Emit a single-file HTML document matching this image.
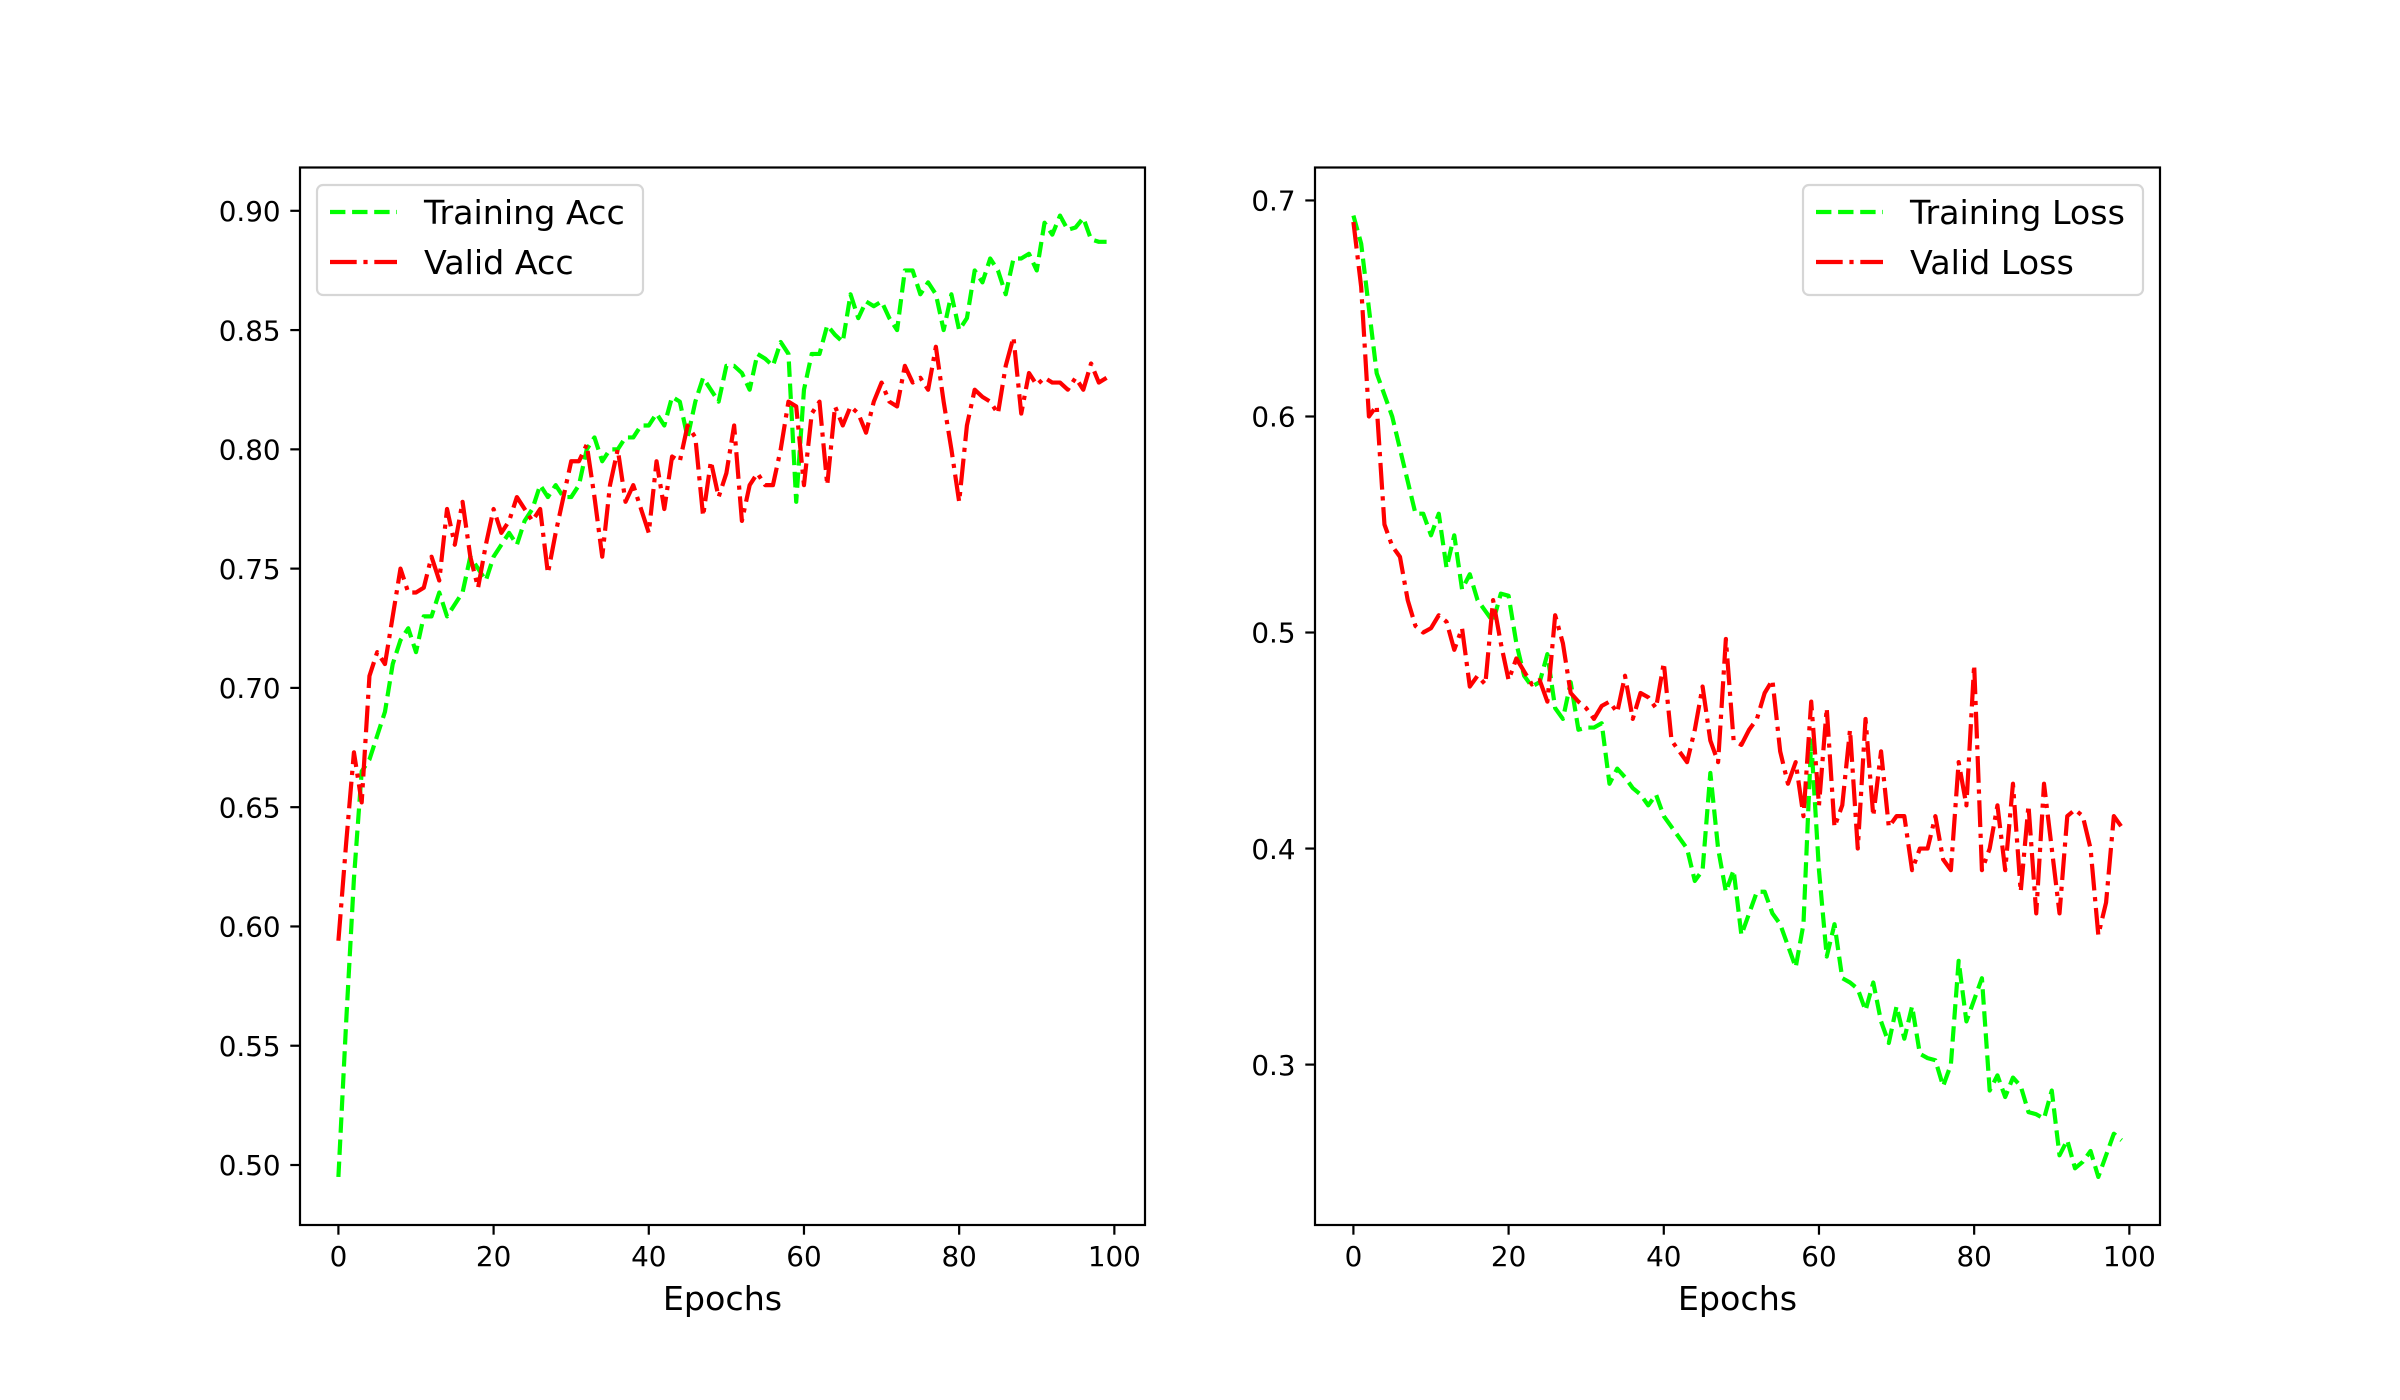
<!DOCTYPE html>
<html><head><meta charset="utf-8"><title>Training curves</title>
<style>
html,body{margin:0;padding:0;background:#fff;}
svg{display:block;font-family:"DejaVu Sans","Liberation Sans",sans-serif;}
</style></head>
<body>
<svg id="fig" width="2400" height="1400" viewBox="0 0 2400 1400" xmlns="http://www.w3.org/2000/svg">
<rect x="0" y="0" width="2400" height="1400" fill="#fff"/>
</svg>
<script>
const epochs = Array.from({length:100},(_,i)=>i);
const trainAcc = [0.495,0.56,0.62,0.665,0.67,0.68,0.69,0.71,0.72,0.725,0.715,0.73,0.73,0.74,0.73,0.735,0.74,0.755,0.75,0.745,0.755,0.76,0.765,0.76,0.77,0.775,0.785,0.78,0.785,0.78,0.78,0.785,0.80,0.805,0.795,0.80,0.80,0.805,0.805,0.81,0.81,0.815,0.81,0.822,0.82,0.805,0.82,0.83,0.825,0.82,0.835,0.835,0.832,0.825,0.84,0.838,0.835,0.845,0.84,0.778,0.825,0.84,0.84,0.852,0.848,0.845,0.865,0.855,0.862,0.86,0.862,0.855,0.85,0.875,0.875,0.865,0.87,0.865,0.85,0.865,0.85,0.855,0.875,0.87,0.88,0.875,0.865,0.88,0.88,0.882,0.875,0.895,0.89,0.898,0.892,0.893,0.897,0.888,0.887,0.887];
const validAcc = [0.594,0.635,0.673,0.652,0.705,0.715,0.71,0.73,0.75,0.74,0.74,0.742,0.755,0.745,0.775,0.76,0.778,0.755,0.742,0.76,0.775,0.765,0.77,0.78,0.775,0.77,0.775,0.748,0.765,0.78,0.795,0.795,0.802,0.78,0.755,0.785,0.80,0.778,0.785,0.775,0.765,0.795,0.775,0.797,0.795,0.81,0.805,0.772,0.795,0.78,0.79,0.81,0.77,0.785,0.79,0.785,0.785,0.80,0.82,0.818,0.785,0.815,0.82,0.785,0.818,0.81,0.818,0.815,0.807,0.82,0.828,0.82,0.818,0.835,0.828,0.83,0.825,0.843,0.82,0.80,0.778,0.81,0.825,0.822,0.82,0.815,0.835,0.847,0.815,0.832,0.827,0.83,0.828,0.828,0.825,0.83,0.825,0.836,0.828,0.83];
const trainLoss = [0.693,0.68,0.65,0.62,0.61,0.60,0.585,0.57,0.555,0.555,0.545,0.555,0.53,0.545,0.52,0.527,0.515,0.51,0.505,0.518,0.517,0.495,0.48,0.475,0.477,0.49,0.465,0.46,0.477,0.455,0.456,0.456,0.458,0.43,0.437,0.433,0.428,0.425,0.42,0.425,0.415,0.41,0.405,0.40,0.385,0.39,0.435,0.40,0.38,0.39,0.36,0.37,0.38,0.38,0.37,0.365,0.355,0.345,0.365,0.45,0.39,0.35,0.365,0.34,0.338,0.335,0.325,0.338,0.32,0.31,0.327,0.312,0.327,0.305,0.303,0.302,0.29,0.30,0.348,0.32,0.33,0.34,0.288,0.295,0.285,0.294,0.29,0.278,0.277,0.275,0.288,0.258,0.265,0.252,0.255,0.26,0.248,0.258,0.268,0.265];
const validLoss = [0.69,0.66,0.60,0.605,0.55,0.54,0.535,0.515,0.503,0.50,0.502,0.508,0.505,0.492,0.502,0.475,0.48,0.476,0.515,0.495,0.478,0.488,0.482,0.476,0.478,0.468,0.508,0.495,0.472,0.468,0.465,0.46,0.466,0.468,0.463,0.48,0.46,0.472,0.47,0.465,0.486,0.45,0.445,0.44,0.455,0.475,0.45,0.44,0.497,0.45,0.448,0.455,0.46,0.472,0.478,0.445,0.43,0.44,0.415,0.468,0.42,0.465,0.41,0.42,0.455,0.40,0.46,0.415,0.445,0.41,0.415,0.415,0.39,0.40,0.40,0.415,0.395,0.39,0.44,0.42,0.485,0.39,0.40,0.42,0.39,0.43,0.38,0.42,0.37,0.43,0.40,0.37,0.415,0.418,0.415,0.40,0.36,0.375,0.415,0.41];
const xTicks = [0,20,40,60,80,100];
const accTicks = [0.50,0.55,0.60,0.65,0.70,0.75,0.80,0.85,0.90];
const accTickLabels = ["0.50","0.55","0.60","0.65","0.70","0.75","0.80","0.85","0.90"];
const lossTicks = [0.3,0.4,0.5,0.6,0.7];
const lossTickLabels = ["0.3","0.4","0.5","0.6","0.7"];

const NS = "http://www.w3.org/2000/svg";
const svg = document.getElementById('fig');
function mk(tag, attrs, parent){
  const e = document.createElementNS(NS, tag);
  for (const k in attrs) e.setAttribute(k, attrs[k]);
  (parent||svg).appendChild(e);
  return e;
}
const TOP=167.5, BOT=1225;
function extent(arrs){
  let mn=Infinity,mx=-Infinity;
  arrs.forEach(a=>a.forEach(v=>{mn=Math.min(mn,v);mx=Math.max(mx,v);}));
  const pad=(mx-mn)*0.05; return [mn-pad,mx+pad];
}
function panel(opt){
  const L=opt.left, R=opt.left+845;
  const g = mk('g',{});
  
  
  const xd=[-4.95,103.95];
  const yd=extent(opt.series.map(s=>s.data));
  const xs=v=>L+(v-xd[0])/(xd[1]-xd[0])*(R-L);
  const ys=v=>BOT-(v-yd[0])/(yd[1]-yd[0])*(BOT-TOP);
  // series
  opt.series.forEach(s=>{
    const d = s.data.map((v,i)=>(i?'L':'M')+xs(epochs[i]).toFixed(2)+' '+ys(v).toFixed(2)).join(' ');
    const p = mk('path',{d:d,fill:'none',stroke:s.color,'stroke-width':4.2,'stroke-dasharray':s.dash,'stroke-linejoin':'round','stroke-linecap':'butt'},g);
    
    
  });
  // frame
  const fr = mk('rect',{x:L,y:TOP,width:R-L,height:BOT-TOP,fill:'none',stroke:'#000','stroke-width':2.2},g);
  
  
  // x ticks
  xTicks.forEach(t=>{
    const x=xs(t);
    const tk = mk('line',{x1:x,y1:BOT,x2:x,y2:BOT+9.7,stroke:'#000','stroke-width':2.2},g);
    
    
    const tx = mk('text',{x:x,y:BOT+41,'font-size':27.8,'text-anchor':'middle',fill:'#000'},g);
    tx.textContent=String(t);
    
    
  });
  // y ticks
  opt.yTicks.forEach((t,i)=>{
    const y=ys(t);
    const tk = mk('line',{x1:L-9.7,y1:y,x2:L,y2:y,stroke:'#000','stroke-width':2.2},g);
    
    
    const tx = mk('text',{x:L-19.4,y:y+10.2,'font-size':27.8,'text-anchor':'end',fill:'#000'},g);
    tx.textContent=opt.yLabels[i];
    
    
  });
  const xl = mk('text',{x:(L+R)/2,y:1310,'font-size':33.3,'text-anchor':'middle',fill:'#000'},g);
  xl.textContent='Epochs';
  
  
  // legend
  const lg = mk('g',{},g);
  
  
  const lx=opt.legendX, lw=opt.legendW;
  mk('rect',{x:lx,y:185,width:lw,height:110,rx:6,ry:6,fill:'#fff','fill-opacity':0.8,stroke:'#d6d6d6','stroke-width':2.2},lg);
  opt.series.forEach((s,i)=>{
    const cy=212+i*50;
    const en = mk('g',{},lg);
    
    
    mk('line',{x1:lx+13,y1:cy,x2:lx+80,y2:cy,stroke:s.color,'stroke-width':4.2,'stroke-dasharray':s.dash},en);
    const t = mk('text',{x:lx+107,y:cy+12,'font-size':33.3,fill:'#000'},en);
    t.textContent=s.label;
  });
}
const DASH='15.4 6.7', DASHDOT='26.7 6.7 4.2 6.7';
panel({name:'accuracy-chart',left:300,yTicks:accTicks,yLabels:accTickLabels,legendX:317,legendW:326,
  series:[{key:'training-acc',label:'Training Acc',data:trainAcc,color:'#00ff00',dash:DASH},
          {key:'valid-acc',label:'Valid Acc',data:validAcc,color:'#ff0000',dash:DASHDOT}]});
panel({name:'loss-chart',left:1315,yTicks:lossTicks,yLabels:lossTickLabels,legendX:1803,legendW:340,
  series:[{key:'training-loss',label:'Training Loss',data:trainLoss,color:'#00ff00',dash:DASH},
          {key:'valid-loss',label:'Valid Loss',data:validLoss,color:'#ff0000',dash:DASHDOT}]});
</script>
</body></html>
